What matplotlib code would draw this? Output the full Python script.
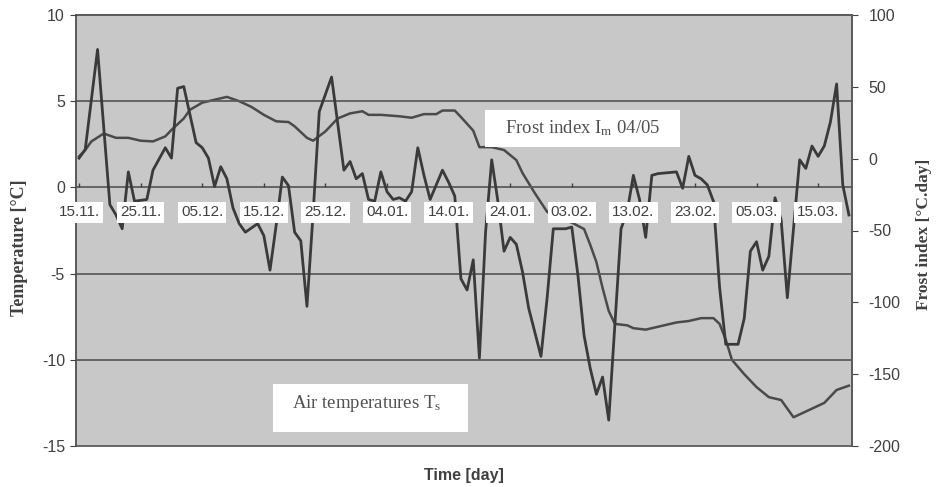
import matplotlib
matplotlib.use("Agg")
import matplotlib.pyplot as plt
from matplotlib.patches import Rectangle

plt.rcParams['font.family'] = ['Liberation Sans', 'DejaVu Sans']
plt.rcParams['mathtext.fontset'] = 'custom'
plt.rcParams['mathtext.rm'] = 'Liberation Serif'
plt.rcParams['mathtext.it'] = 'Liberation Serif:italic'
plt.rcParams['axes.unicode_minus'] = False

# ---- data (day 0 = 15.11.2004) ----
date_labels = ["15.11.", "25.11.", "05.12.", "15.12.", "25.12.", "04.01.", "14.01.",
               "24.01.", "03.02.", "13.02.", "23.02.", "05.03.", "15.03."]
label_days = [0, 10, 20, 30, 40, 50, 60, 70, 80, 90, 100, 110, 120]

temp_days = [0, 1, 3, 5, 6, 7, 8, 9, 11, 12, 14, 15, 16, 17, 19, 20, 21, 22, 23, 24,
             25, 26, 27, 29, 30, 31, 32, 33, 34, 35, 36, 37, 38, 39, 40, 41, 43, 44,
             45, 46, 47, 48, 49, 50, 51, 52, 53, 54, 55, 56, 57, 58, 59, 60, 61, 62,
             63, 64, 65, 66, 67, 68, 69, 70, 71, 72, 73, 75, 76, 77, 79, 80, 81, 82,
             83, 84, 85, 86, 88, 89, 90, 91, 92, 93, 94, 97, 98, 99, 100, 101, 102,
             103, 104, 105, 107, 108, 109, 110, 111, 112, 113, 114, 115, 116, 117,
             118, 119, 120, 121, 122, 123, 124, 125]
temp_vals = [1.7, 2.2, 8.0, -1.0, -1.6, -2.4, 0.9, -0.8, -0.7, 1.0, 2.3, 1.7, 5.75, 5.85,
             2.6, 2.3, 1.7, 0.05, 1.2, 0.5, -1.2, -2.1, -2.6, -2.1, -2.8, -4.8, -2.2,
             0.6, 0.1, -2.6, -3.1, -6.9, -1.5, 4.4, 5.4, 6.4, 1.0, 1.5, 0.5, 0.8, -0.7,
             -0.8, 0.9, -0.25, -0.7, -0.6, -0.8, -0.25, 2.3, 0.7, -0.7, 0.15, 1.0, 0.3,
             -0.5, -5.3, -5.95, -4.2, -9.9, -2.6, 1.6, -0.8, -3.7, -2.9, -3.3, -4.9,
             -7.0, -9.8, -6.4, -2.4, -2.4, -2.3, -5.1, -8.6, -10.5, -12.0, -11.0, -13.5,
             -2.4, -1.4, 0.7, -0.7, -2.9, 0.7, 0.8, 0.9, -0.05, 1.8, 0.7, 0.5, 0.15,
             -0.8, -5.8, -9.1, -9.1, -7.6, -3.7, -3.15, -4.8, -4.0, -0.6, -1.9, -6.4,
             -2.4, 1.6, 1.1, 2.4, 1.8, 2.4, 3.8, 6.0, 0.15, -1.6]

frost_days = [0, 1, 2, 4, 6, 8, 10, 12, 14, 15, 17, 18, 20, 22, 24, 26, 28, 30, 32, 34,
              35, 37, 38, 40, 42, 44, 46, 47, 49, 52, 54, 56, 58, 59, 61, 62, 64, 65,
              67, 69, 71, 72, 74, 76, 78, 80, 82, 83, 84, 85, 86, 87, 89, 90, 92, 94,
              97, 99, 101, 103, 104, 105, 106, 108, 110, 112, 114, 115, 116, 118, 121,
              123, 125]
frost_vals = [1.5, 6, 12, 17.5, 14.5, 14.5, 12.5, 12, 15.5, 20, 28, 34, 39, 41, 43, 40,
              36, 30.5, 26, 25.5, 22.5, 14.5, 12.5, 19, 28, 31.5, 33, 30.5, 30.5, 29.5,
              28.5, 31, 31, 33.5, 33.5, 29, 19.5, 8, 8, 6, -1, -10, -24, -37, -42,
              -44.5, -49, -60, -72, -90, -106, -115, -116, -118, -119, -117, -114,
              -113, -111, -111, -115, -126, -140, -150, -159, -166, -168, -174, -180,
              -176, -170, -161, -158]

# ---- styling ----
bg = '#c8c8c8'
line_c = '#3a3a3a'
grid_c = '#5c5c5c'
txt_c = '#404040'

fig = plt.figure(figsize=(9.36, 4.87), dpi=100)
ax = fig.add_axes([76/936, 1-446/487, (852-76)/936, (446-15)/487])
ax2 = ax.twinx()

ax.set_zorder(ax2.get_zorder() + 1)
ax.patch.set_visible(False)
ax2.patch.set_visible(True)
ax2.patch.set_facecolor(bg)
ax.set_axisbelow(False)

ax.plot(temp_days, temp_vals, color=line_c, lw=2.0, zorder=2)
ax2.plot(frost_days, frost_vals, color='#4a4a4a', lw=1.8, zorder=2)

ax.set_xlim(-0.5, 125.5)
ax.set_ylim(-15, 10)
ax2.set_ylim(-200, 100)
ax.set_yticks([-15, -10, -5, 0, 5, 10])
ax2.set_yticks([-200, -150, -100, -50, 0, 50, 100])

# horizontal gridlines
for yv in [-10, -5, 5]:
    ax.axhline(yv, color=grid_c, lw=1.3, zorder=1)

# x axis along zero line with boxed date labels
ax.spines['bottom'].set_position(('data', 0))
ax.spines['bottom'].set_color(grid_c)
ax.spines['bottom'].set_linewidth(1.3)
ax.spines['bottom'].set_zorder(1)
ax.set_xticks(label_days)
ax.set_xticklabels(date_labels)
ax.tick_params(axis='x', direction='in', length=3, pad=13, labelsize=11,
               colors=txt_c, width=1)
for lbl in ax.get_xticklabels():
    lbl.set_bbox(dict(facecolor='white', edgecolor='none', pad=2.2))

for sp in ['top', 'left', 'right']:
    ax.spines[sp].set_color(grid_c)
    ax.spines[sp].set_linewidth(1.3)
for sp in ax2.spines.values():
    sp.set_color(grid_c)
    sp.set_linewidth(1.3)

ax.tick_params(axis='y', direction='out', length=4, labelsize=11.5, colors=txt_c, pad=4)
ax2.tick_params(axis='y', direction='out', length=4, labelsize=11.5, colors=txt_c, pad=8)

ax.set_ylabel('Temperature [°C]', fontsize=13, fontweight='bold',
              family='Liberation Serif', color=txt_c)
ax.yaxis.set_label_coords(-0.062, 0.46)
ax2.set_ylabel('Frost index [°C.day]', fontsize=12.5, fontweight='bold',
               family='Liberation Serif', color=txt_c)
ax2.yaxis.set_label_coords(1.083, 0.49)

fig.text(0.496, 0.023, 'Time [day]', ha='center', va='center', fontsize=11.5,
         fontweight='bold', color=txt_c)

# annotation boxes
ax.add_patch(Rectangle((0.527, 0.694), 0.251, 0.086, transform=ax.transAxes,
                       facecolor='white', edgecolor='none', zorder=4))
ax.text(0.653, 0.737, r'Frost index I$_{\mathrm{m}}$ 04/05', transform=ax.transAxes,
        ha='center', va='center', fontsize=13.5, family='Liberation Serif',
        color='#505050', zorder=5)
ax.add_patch(Rectangle((0.254, 0.0325), 0.251, 0.111, transform=ax.transAxes,
                       facecolor='white', edgecolor='none', zorder=4))
ax.text(0.374, 0.099, r'Air temperatures T$_{\mathrm{s}}$', transform=ax.transAxes,
        ha='center', va='center', fontsize=13.5, family='Liberation Serif',
        color='#505050', zorder=5)

fig.savefig('out.png', dpi=100)
